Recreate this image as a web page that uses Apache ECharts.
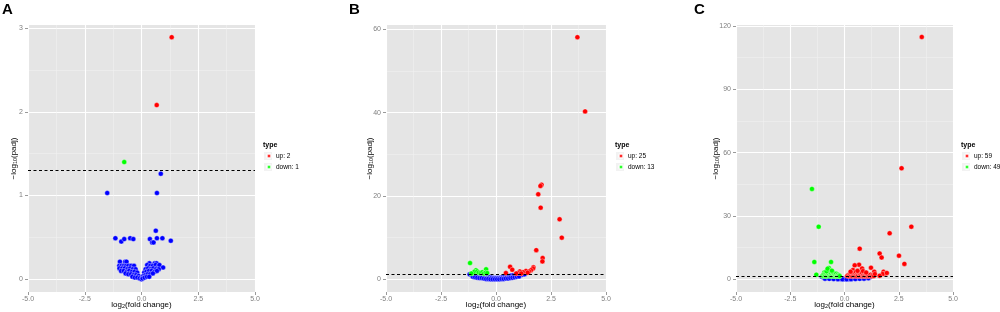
<!DOCTYPE html>
<html><head><meta charset="utf-8">
<script src="https://cdn.jsdelivr.net/npm/echarts@6/dist/echarts.min.js"></script>
<style>html,body{margin:0;padding:0;background:#fff}#c{width:1000px;height:312px}</style>
</head><body><div id="c"></div>
<script>
// ---------- data ----------
const panelLabels = ['A', 'B', 'C'];
const xTickValues = [-5, -2.5, 0, 2.5, 5];
const yTicksA = [0, 1, 2, 3];
const yTicksB = [0, 20, 40, 60];
const yTicksC = [0, 30, 60, 90, 120];
const threshold = 1.30103; // -log10(0.05)

const legendA = ['up: 2', 'down: 1'];
const legendB = ['up: 25', 'down: 13'];
const legendC = ['up: 59', 'down: 49'];

const upA = [[1.33, 2.89], [0.67, 2.08]];
const downA = [[-0.76, 1.40]];
const nsA = [
  [0.85, 1.26], [-1.51, 1.03], [0.68, 1.03], [0.63, 0.58], [-1.15, 0.49], [-0.89, 0.45], [-0.76, 0.48],
  [-0.50, 0.49], [-0.36, 0.48], [0.37, 0.48], [0.47, 0.44], [0.53, 0.44], [0.68, 0.49], [0.92, 0.49], [1.29, 0.46],
  [-0.95, 0.21], [-0.72, 0.21], [-0.66, 0.21], [0.35, 0.19], [0.58, 0.19], [0.66, 0.19],
  [-0.98, 0.16], [-0.88, 0.16], [-0.78, 0.16], [-0.68, 0.16], [-0.58, 0.16], [-0.46, 0.16], [-0.33, 0.16],
  [0.25, 0.17], [0.38, 0.16], [0.50, 0.16], [0.62, 0.17], [0.74, 0.15], [0.79, 0.17], [0.95, 0.14],
  [-0.97, 0.13], [-0.85, 0.13], [-0.74, 0.13], [-0.62, 0.12], [-0.50, 0.13], [-0.38, 0.12], [-0.26, 0.12],
  [0.18, 0.12], [0.29, 0.13], [0.40, 0.12], [0.52, 0.13], [0.64, 0.12], [0.76, 0.12],
  [-0.90, 0.10], [-0.78, 0.10], [-0.66, 0.09], [-0.54, 0.10], [-0.42, 0.09], [-0.30, 0.09], [-0.19, 0.08],
  [0.12, 0.08], [0.22, 0.09], [0.33, 0.10], [0.45, 0.10], [0.57, 0.09], [0.68, 0.10],
  [-0.70, 0.07], [-0.58, 0.06], [-0.46, 0.06], [-0.35, 0.05], [-0.24, 0.05], [-0.13, 0.04],
  [0.08, 0.04], [0.17, 0.05], [0.27, 0.06], [0.38, 0.06], [0.50, 0.07],
  [-0.40, 0.03], [-0.29, 0.02], [-0.18, 0.02], [-0.08, 0.01], [0.00, 0.00], [0.05, 0.01], [0.14, 0.02],
  [0.24, 0.03], [0.34, 0.03]
];

const upB = [
  [3.70, 58.1], [4.05, 40.3], [2.07, 22.7], [2.02, 22.4], [1.92, 20.4], [2.03, 17.2], [2.89, 14.4],
  [2.99, 10.0], [1.83, 7.0], [2.12, 5.1], [2.11, 4.3], [0.64, 3.0], [0.74, 2.3], [1.70, 2.9], [1.68, 2.6],
  [1.59, 2.2], [1.50, 1.9], [1.36, 2.0], [1.22, 1.7], [1.08, 1.9], [1.02, 1.5], [0.45, 1.5], [0.92, 1.4],
  [1.44, 1.6], [1.15, 1.4]
];
const downB = [
  [-1.18, 3.9], [-0.91, 2.2], [-0.45, 2.4], [-1.05, 1.5], [-0.98, 1.8], [-0.85, 1.9], [-0.78, 1.6],
  [-0.70, 1.5], [-0.62, 1.7], [-0.55, 1.4], [-0.47, 1.6], [-0.40, 1.5], [-1.12, 1.4]
];
const nsB = [
  [-1.20, 1.2], [-1.10, 1.0], [-1.00, 1.1], [-0.90, 0.9], [-0.80, 1.0], [-0.70, 0.8], [-0.60, 0.9],
  [-0.50, 0.7], [-0.40, 0.6], [-0.30, 0.5], [-0.20, 0.4], [-0.10, 0.3], [0.00, 0.3], [0.10, 0.3],
  [0.20, 0.4], [0.30, 0.5], [0.40, 0.6], [0.50, 0.7], [0.60, 0.8], [0.70, 0.9], [0.80, 1.0], [0.90, 1.0],
  [1.00, 1.1], [1.10, 1.2], [1.20, 1.1], [1.30, 1.2],
  [-1.05, 0.6], [-0.95, 0.5], [-0.85, 0.4], [-0.75, 0.3], [-0.65, 0.3], [-0.55, 0.2], [-0.45, 0.1],
  [-0.35, 0.1], [-0.25, 0.0], [-0.15, 0.0], [-0.05, 0.0], [0.05, 0.0], [0.15, 0.0], [0.25, 0.1],
  [0.35, 0.1], [0.45, 0.2], [0.55, 0.2], [0.65, 0.3], [0.75, 0.4], [0.85, 0.5], [0.95, 0.6], [1.05, 0.7]
];

const upC = [
  [3.56, 114.8], [2.63, 52.6], [3.08, 24.9], [2.08, 21.8], [0.70, 14.5], [1.62, 12.2], [1.71, 10.3],
  [2.51, 11.2], [2.76, 7.3], [0.67, 6.9], [0.47, 6.6], [1.22, 5.5], [0.81, 5.1], [1.37, 3.6], [1.80, 3.6],
  [1.88, 2.8], [1.76, 2.5], [0.39, 4.4],
  [0.12, 1.6], [0.18, 2.0], [0.22, 1.5], [0.26, 2.4], [0.30, 1.8], [0.33, 3.0], [0.36, 1.5], [0.40, 2.2],
  [0.43, 1.7], [0.46, 2.8], [0.50, 1.6], [0.52, 3.5], [0.55, 2.0], [0.58, 1.5], [0.61, 2.6], [0.64, 1.8],
  [0.68, 3.2], [0.71, 1.5], [0.74, 2.3], [0.77, 1.7], [0.80, 2.9], [0.84, 1.6], [0.87, 2.1], [0.90, 1.5],
  [0.94, 1.9], [0.98, 1.6], [1.02, 2.4], [1.06, 1.5], [1.10, 1.8], [1.15, 1.6], [1.20, 2.2], [1.25, 1.5],
  [1.30, 1.9], [1.35, 1.6], [1.40, 2.5], [0.60, 4.0], [0.85, 3.9], [1.00, 3.2], [0.28, 3.6], [1.95, 3.0],
  [1.62, 1.7]
];
const downC = [
  [-1.50, 42.8], [-1.19, 24.9], [-1.39, 8.2], [-0.62, 8.2], [-1.30, 2.2], [-0.93, 3.2],
  [-1.02, 1.6], [-0.98, 2.0], [-0.95, 1.5], [-0.92, 2.4], [-0.89, 1.7], [-0.86, 2.9], [-0.84, 1.5],
  [-0.81, 2.1], [-0.79, 3.4], [-0.77, 1.6], [-0.75, 4.6], [-0.74, 2.6], [-0.72, 5.4], [-0.71, 1.8],
  [-0.70, 3.8], [-0.68, 2.3], [-0.67, 4.2], [-0.65, 1.5], [-0.64, 3.1], [-0.62, 2.0], [-0.60, 2.7],
  [-0.58, 1.6], [-0.56, 3.5], [-0.54, 2.2], [-0.52, 1.5], [-0.50, 2.9], [-0.48, 1.8], [-0.46, 2.5],
  [-0.44, 1.5], [-0.42, 2.0], [-0.40, 1.6], [-0.38, 2.6], [-0.36, 1.5], [-0.34, 1.9], [-0.32, 1.5],
  [-0.30, 2.2], [-0.28, 1.6], [-0.26, 1.5], [-0.24, 1.8], [-0.22, 1.5], [-0.83, 3.8], [-0.78, 5.0],
  [-0.58, 4.1]
];
const nsC = [
  [-1.04, 1.2], [-0.95, 0.9], [-0.85, 1.1], [-0.75, 0.7], [-0.65, 0.9], [-0.55, 0.5], [-0.45, 0.7],
  [-0.35, 0.3], [-0.25, 0.4], [-0.15, 0.1], [-0.05, 0.0], [0.05, 0.1], [0.15, 0.0], [0.25, 0.3],
  [0.35, 0.2], [0.45, 0.5], [0.55, 0.4], [0.65, 0.7], [0.75, 0.6], [0.85, 0.9], [0.95, 0.8], [1.05, 1.1],
  [1.15, 1.0], [1.20, 1.2], [-0.90, 0.3], [-0.70, 0.2], [-0.50, 0.1], [-0.30, 0.0], [-0.10, 0.0],
  [0.10, 0.0], [0.30, 0.0], [0.50, 0.1], [0.70, 0.2], [0.90, 0.3], [1.10, 0.5]
];

// ---------- layout / style ----------
const FONT = '"Liberation Sans", Arial, sans-serif';
const COL_UP = '#FF0000', COL_DOWN = '#00FF00', COL_NS = '#0000FF';
const panels = [
  { up: upA, down: downA, ns: nsA, legend: legendA, yTicks: yTicksA, yMin: -0.152, yMax: 3.036, split: 3,
    left: 28, width: 227, yGap: 10, letterX: 2, legLeft: 266, typeLeft: 263 },
  { up: upB, down: downB, ns: nsB, legend: legendB, yTicks: yTicksB, yMin: -3.05, yMax: 61.03, split: 3,
    left: 386, width: 220, yGap: 11.5, letterX: 349, legLeft: 618, typeLeft: 615 },
  { up: upC, down: downC, ns: nsC, legend: legendC, yTicks: yTicksC, yMin: -6.02, yMax: 120.47, split: 4,
    left: 736, width: 217, yGap: 15.5, letterX: 694, legLeft: 964, typeLeft: 961 }
];
const GRID_TOP = 25, GRID_H = 267;

const axisNameRich = {
  a: { fontSize: 8, fontFamily: FONT, color: '#000' },
  b: { fontSize: 5.5, fontFamily: FONT, color: '#000', verticalAlign: 'bottom', padding: [3, 0, 0, 0] }
};
const pointStyle = (c) => ({ color: c, borderColor: 'rgba(255,255,255,0.7)', borderWidth: 0.5, opacity: 1 });

const grid = [], xAxis = [], yAxis = [], series = [], legend = [], title = [], graphic = [];
panels.forEach((p, i) => {
  grid.push({ left: p.left, top: GRID_TOP, width: p.width, height: GRID_H, show: true,
    backgroundColor: '#E5E5E5', borderWidth: 0, containLabel: false, outerBoundsMode: 'none' });
  xAxis.push({
    type: 'value', gridIndex: i, min: -5, max: 5, interval: 2.5, position: 'bottom',
    axisLine: { show: false, onZero: false },
    axisTick: { show: true, length: 3, lineStyle: { color: '#7F7F7F', width: 0.8 } },
    axisLabel: { fontSize: 7, color: '#7F7F7F', fontFamily: FONT, margin: 4, formatter: v => v.toFixed(1) },
    splitLine: { show: true, lineStyle: { color: '#FFFFFF', width: 1.1 } },
    minorTick: { show: false, splitNumber: 2 },
    minorSplitLine: { show: true, lineStyle: { color: '#F2F2F2', width: 0.5 } },
    name: '{a|log}{b|2}{a|(fold change)}', nameLocation: 'middle', nameGap: 8, nameMoveOverlap: false,
    nameTextStyle: { rich: axisNameRich }
  });
  yAxis.push({
    type: 'value', gridIndex: i, min: p.yMin, max: p.yMax, splitNumber: p.split, position: 'left',
    axisLine: { show: false, onZero: false },
    axisTick: { show: true, length: 3, customValues: p.yTicks, lineStyle: { color: '#7F7F7F', width: 0.8 } },
    axisLabel: { fontSize: 7, color: '#7F7F7F', fontFamily: FONT, margin: 5, customValues: p.yTicks },
    splitLine: { show: true, lineStyle: { color: '#FFFFFF', width: 1.1 } },
    minorTick: { show: false, splitNumber: 2 },
    minorSplitLine: { show: true, lineStyle: { color: '#F2F2F2', width: 0.5 } },
    name: '{a|\u2212log}{b|10}{a|(padj)}', nameLocation: 'middle', nameGap: p.yGap, nameRotate: 90,
    nameMoveOverlap: false,
    nameTextStyle: { rich: axisNameRich }
  });
  series.push({ type: 'scatter', name: 'ns' + i, xAxisIndex: i, yAxisIndex: i, data: p.ns,
    symbolSize: 5, itemStyle: pointStyle(COL_NS), silent: true, z: 2 });
  series.push({ type: 'scatter', name: p.legend[1], xAxisIndex: i, yAxisIndex: i, data: p.down,
    symbolSize: 5, itemStyle: pointStyle(COL_DOWN), silent: true, z: 3 });
  series.push({ type: 'scatter', name: p.legend[0], xAxisIndex: i, yAxisIndex: i, data: p.up,
    symbolSize: 5, itemStyle: pointStyle(COL_UP), silent: true, z: 3 });
  series.push({ type: 'line', name: 'thr' + i, xAxisIndex: i, yAxisIndex: i, data: [], z: 5, silent: true,
    markLine: { silent: true, symbol: 'none', animation: false, label: { show: false },
      lineStyle: { color: '#000', width: 1, type: [3, 2.5] }, data: [{ yAxis: threshold }] } });
  legend.push({
    data: p.legend, orient: 'vertical', left: p.legLeft, top: 151.5, padding: 0, itemGap: 2,
    itemWidth: 4, itemHeight: 4, icon: 'circle', selectedMode: false,
    textStyle: { fontSize: 6.5, lineHeight: 9, color: '#000', fontFamily: FONT }
  });
  title.push({ text: panelLabels[i], left: p.letterX, top: 2, padding: 0,
    textStyle: { fontSize: 15, fontWeight: 'bold', color: '#000', fontFamily: FONT } });
  title.push({ text: 'type', left: p.typeLeft, top: 142, padding: 0,
    textStyle: { fontSize: 7, fontWeight: 'bold', color: '#000', fontFamily: FONT } });
  [156, 167].forEach(cy => graphic.push({ type: 'rect', z: -1,
    shape: { x: p.legLeft - 2, y: cy - 4, width: 8, height: 8 }, style: { fill: '#F2F2F2' } }));
});

const chart = echarts.init(document.getElementById('c'), null, { renderer: 'canvas' });
chart.setOption({ animation: false, backgroundColor: '#fff', grid, xAxis, yAxis, series, legend, title, graphic });
</script></body></html>
